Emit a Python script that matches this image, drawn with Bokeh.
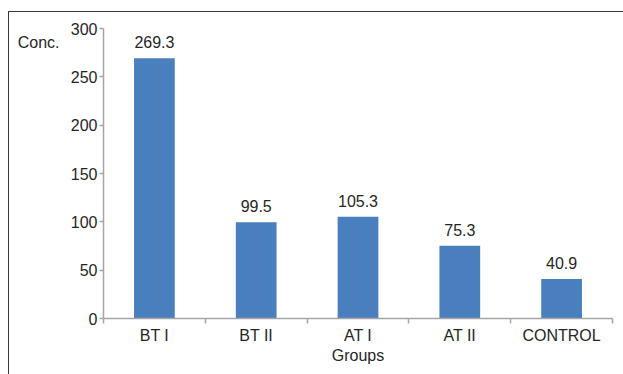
import numpy as np
from bokeh.plotting import figure
from bokeh.models import Range1d, FixedTicker, LinearAxis, ColumnDataSource
from bokeh.core.properties import value
from bokeh.embed import file_html
from bokeh.resources import INLINE

# Mean concentration per study group
groups = ["BT I", "BT II", "AT I", "AT II", "CONTROL"]
conc = [269.3, 99.5, 105.3, 75.3, 40.9]
conc_labels = ["269.3", "99.5", "105.3", "75.3", "40.9"]
y_ticks = [0, 50, 100, 150, 200, 250, 300]
y_title = "Conc."
x_title = "Groups"

FONT = "Liberation Sans"
TEXT = "#262626"
AXIS = "#a6a6a6"
BAR = "#4a7fbe"
FRAME = "#3a3a3a"

# bars sit in the middle of unit-wide slots; slot edges carry the tick marks
slots = [i + 0.5 for i in range(len(groups))]
edges = [float(i) for i in range(len(groups) + 1)]

p = figure(width=615, height=363,
           x_range=Range1d(0, len(groups)), y_range=Range1d(0, 300),
           x_axis_type=None, y_axis_type=None,
           output_backend="svg", toolbar_location=None,
           min_border_left=94, min_border_right=12,
           min_border_top=16, min_border_bottom=57)
p.outline_line_color = None
p.background_fill_color = "white"
p.border_fill_color = "white"
p.xgrid.visible = False
p.ygrid.visible = False
# open frame round the chart: only its left and top edges show
p.margin = (11, 0, 0, 8)
p.styles = {"border-left": f"1.5px solid {FRAME}",
            "border-top": f"1.5px solid {FRAME}"}

src = ColumnDataSource(dict(x=slots, y=conc, label=conc_labels))
p.vbar(x="x", top="y", bottom=0, width=0.4, source=src,
       fill_color=BAR, line_color=None)
p.text(x="x", y="y", text="label", source=src,
       text_align="center", text_baseline="alphabetic", y_offset=-16,
       text_font=value(FONT), text_font_size="16px", text_color=TEXT)


def style_labels(ax):
    ax.major_label_text_font = FONT
    ax.major_label_text_font_size = "16px"
    ax.major_label_text_color = TEXT


yax = LinearAxis(ticker=FixedTicker(ticks=y_ticks))
yax.axis_line_color = AXIS
yax.axis_line_width = 1.5
yax.major_tick_line_color = AXIS
yax.major_tick_line_width = 1.5
yax.major_tick_out = 4
yax.major_tick_in = 0
yax.minor_tick_line_color = None
yax.major_label_standoff = 2
style_labels(yax)
p.add_layout(yax, "left")

# horizontal value-axis title, set beside the top of the scale
title_pos = 285.5
ytitle = LinearAxis(ticker=FixedTicker(ticks=[title_pos]))
ytitle.major_label_overrides = {title_pos: y_title}
ytitle.axis_line_color = None
ytitle.major_tick_line_color = None
ytitle.minor_tick_line_color = None
ytitle.major_tick_out = 0
ytitle.major_tick_in = 0
ytitle.major_label_standoff = 8
style_labels(ytitle)
p.add_layout(ytitle, "left")

xax = LinearAxis(ticker=FixedTicker(ticks=slots, minor_ticks=edges))
xax.major_label_overrides = {s: g for s, g in zip(slots, groups)}
xax.axis_line_color = AXIS
xax.axis_line_width = 1.5
xax.major_tick_line_color = None
xax.major_tick_out = 0
xax.major_tick_in = 0
xax.minor_tick_line_color = AXIS
xax.minor_tick_line_width = 1.5
xax.minor_tick_out = 5
xax.minor_tick_in = 0
xax.major_label_standoff = 3
style_labels(xax)
xax.axis_label = x_title
xax.axis_label_standoff = 0
xax.axis_label_text_font = FONT
xax.axis_label_text_font_size = "16px"
xax.axis_label_text_font_style = "normal"
xax.axis_label_text_color = TEXT
p.add_layout(xax, "below")

open("out.html", "w").write(file_html(p, INLINE))
